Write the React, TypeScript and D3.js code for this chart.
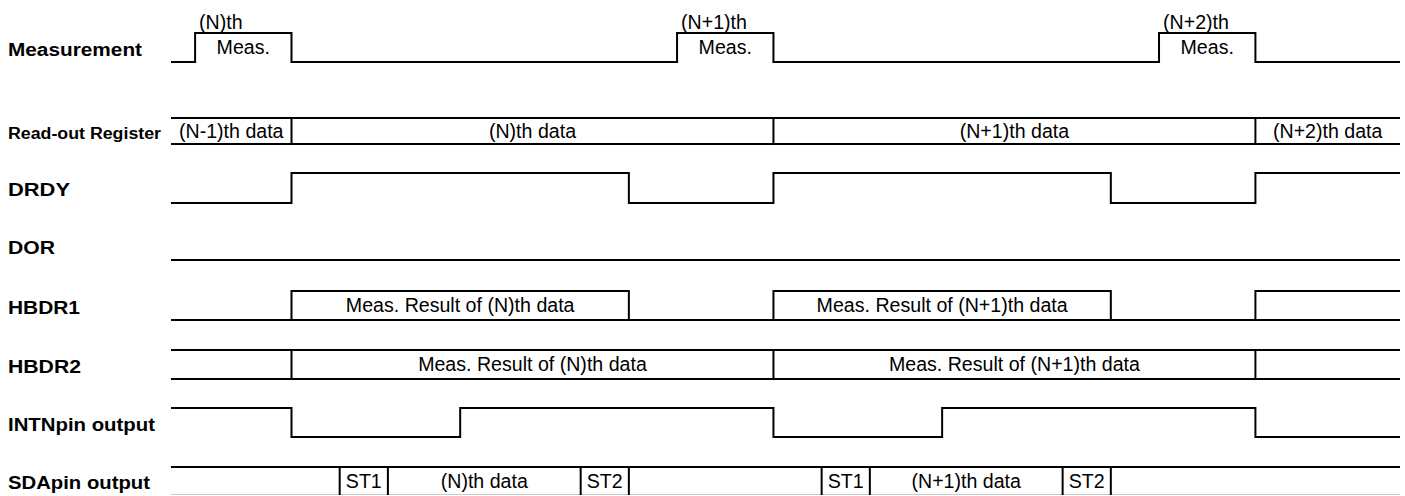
import React from "react";
import * as d3 from "d3";

// ---------- data (time in arbitrary units; one measurement cycle = 100) ----------
const signalNames = [
  "Measurement",
  "Read-out Register",
  "DRDY",
  "DOR",
  "HBDR1",
  "HBDR2",
  "INTNpin output",
  "SDApin output",
];

const T_START = -25;
const T_END = 230;

const measTimes = [-25, -20, 0, 80, 100, 180, 200];
const measLevels = [0, 1, 0, 1, 0, 1, 0];
const measPulseLabels = ["(N)th", "(N+1)th", "(N+2)th"];
const measInnerLabel = "Meas.";

const readoutBounds = [0, 100, 200];
const readoutLabels = ["(N-1)th data", "(N)th data", "(N+1)th data", "(N+2)th data"];

const drdyTimes = [-25, 0, 70, 100, 170, 200];
const drdyLevels = [0, 1, 0, 1, 0, 1];

const dorTimes = [-25];
const dorLevels = [0];

const hbdr1Times = [-25, 0, 70, 100, 170, 200];
const hbdr1Levels = [0, 1, 0, 1, 0, 1];
const hbdr1Labels = ["Meas. Result of (N)th data", "Meas. Result of (N+1)th data", ""];

const hbdr2Bounds = [0, 100, 200];
const hbdr2Labels = ["", "Meas. Result of (N)th data", "Meas. Result of (N+1)th data", ""];

const intnTimes = [-25, 0, 35, 100, 135, 200];
const intnLevels = [1, 0, 1, 0, 1, 0];

const sdaBounds = [10, 20, 60, 70, 110, 120, 160, 170];
const sdaLabels = ["", "ST1", "(N)th data", "ST2", "", "ST1", "(N+1)th data", "ST2", ""];

// ---------- layout ----------
const W = 1405;
const H = 496;
const rowTop = [33, 118, 173, 231, 291, 350, 408, 467];
const rowBottom = [62, 144, 203, 260, 320, 379, 437, 495];
const labelWidths = [134, 153, 62, 47, 72, 73, 147, 142];
const labelSizes = [18, 16, 18, 18, 18, 18, 18, 18];
const FONT = "'Liberation Sans', Arial, Helvetica, sans-serif";
const TEXT_SIZE = 19.6;
const SW = 2;

const x = d3.scaleLinear().domain([T_START, T_END]).range([171, 1400]);

type Step = { t: number; v: number };

function stepsOf(times: number[], levels: number[]): Step[] {
  const s = times.map((t, i) => ({ t, v: levels[i] }));
  s.push({ t: T_END, v: levels[levels.length - 1] });
  return s;
}

function digitalPath(times: number[], levels: number[], top: number, bottom: number) {
  const line = d3
    .line<Step>()
    .x((d) => x(d.t))
    .y((d) => (d.v ? top : bottom))
    .curve(d3.curveStepAfter);
  return line(stepsOf(times, levels)) || "";
}

function highSegments(times: number[], levels: number[]) {
  const s = stepsOf(times, levels);
  const segs: [number, number][] = [];
  for (let i = 0; i < s.length - 1; i++) {
    if (s[i].v === 1) segs.push([s[i].t, s[i + 1].t]);
  }
  return segs;
}

function Bus({ bounds, labels, top, bottom, bottomColor = "#000" }: any) {
  const edges = [T_START, ...bounds, T_END];
  const cy = (top + bottom) / 2;
  const solid = bottomColor === "#000";
  return (
    <g>
      <line x1={x(T_START)} x2={x(T_END)} y1={top} y2={top} stroke="#000" strokeWidth={SW} />
      <line
        x1={x(T_START)}
        x2={x(T_END)}
        y1={solid ? bottom : bottom - 0.5}
        y2={solid ? bottom : bottom - 0.5}
        stroke={bottomColor}
        strokeWidth={solid ? SW : 1}
      />
      {bounds.map((b: number, i: number) => (
        <line key={i} x1={x(b)} x2={x(b)} y1={top} y2={bottom} stroke="#000" strokeWidth={SW} />
      ))}
      {labels.map((l: string, i: number) =>
        l ? (
          <text
            key={"t" + i}
            x={(x(edges[i]) + x(edges[i + 1])) / 2}
            y={cy + 6.5}
            textAnchor="middle"
            fontSize={TEXT_SIZE}
            fontFamily={FONT}
          >
            {l}
          </text>
        ) : null
      )}
    </g>
  );
}

export default function App() {
  const measHigh = highSegments(measTimes, measLevels);
  const hbdr1High = highSegments(hbdr1Times, hbdr1Levels);
  return (
    <svg
      width={W}
      height={H}
      viewBox={`0 0 ${W} ${H}`}
      style={{ position: "absolute", left: 0, top: 0, background: "#fff" }}
    >
      <rect x={0} y={0} width={W} height={H} fill="#fff" />
      {/* labels */}
      {signalNames.map((n, i) => (
        <text
          key={n}
          x={8}
          y={(rowTop[i] + rowBottom[i]) / 2 + 8}
          fontSize={labelSizes[i]}
          fontWeight="bold"
          fontFamily={FONT}
          textLength={labelWidths[i]}
          lengthAdjust="spacingAndGlyphs"
        >
          {n}
        </text>
      ))}

      {/* Measurement */}
      <path d={digitalPath(measTimes, measLevels, rowTop[0], rowBottom[0])} fill="none" stroke="#000" strokeWidth={SW} />
      {measHigh.map(([a, b], i) => (
        <g key={i}>
          <text x={x(a) + 4} y={rowTop[0] - 4} fontSize={TEXT_SIZE} fontFamily={FONT}>
            {measPulseLabels[i]}
          </text>
          <text x={(x(a) + x(b)) / 2} y={rowBottom[0] - 8} fontSize={TEXT_SIZE} fontFamily={FONT} textAnchor="middle">
            {measInnerLabel}
          </text>
        </g>
      ))}

      {/* Read-out Register */}
      <Bus bounds={readoutBounds} labels={readoutLabels} top={rowTop[1]} bottom={rowBottom[1]} />

      {/* DRDY */}
      <path d={digitalPath(drdyTimes, drdyLevels, rowTop[2], rowBottom[2])} fill="none" stroke="#000" strokeWidth={SW} />

      {/* DOR */}
      <path d={digitalPath(dorTimes, dorLevels, rowTop[3], rowBottom[3])} fill="none" stroke="#000" strokeWidth={SW} />

      {/* HBDR1 */}
      <line x1={x(T_START)} x2={x(T_END)} y1={rowBottom[4]} y2={rowBottom[4]} stroke="#000" strokeWidth={SW} />
      <path d={digitalPath(hbdr1Times, hbdr1Levels, rowTop[4], rowBottom[4])} fill="none" stroke="#000" strokeWidth={SW} />
      {hbdr1High.map(([a, b], i) =>
        hbdr1Labels[i] ? (
          <text
            key={i}
            x={(x(a) + x(b)) / 2}
            y={(rowTop[4] + rowBottom[4]) / 2 + 6.5}
            textAnchor="middle"
            fontSize={TEXT_SIZE}
            fontFamily={FONT}
          >
            {hbdr1Labels[i]}
          </text>
        ) : null
      )}

      {/* HBDR2 */}
      <Bus bounds={hbdr2Bounds} labels={hbdr2Labels} top={rowTop[5]} bottom={rowBottom[5]} />

      {/* INTN */}
      <path d={digitalPath(intnTimes, intnLevels, rowTop[6], rowBottom[6])} fill="none" stroke="#000" strokeWidth={SW} />

      {/* SDA */}
      <Bus bounds={sdaBounds} labels={sdaLabels} top={rowTop[7]} bottom={rowBottom[7]} bottomColor="#c8c8c8" />
    </svg>
  );
}
